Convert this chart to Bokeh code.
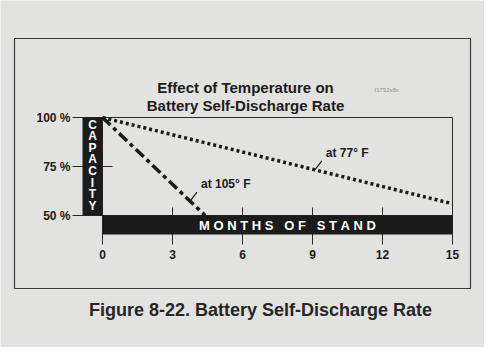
import numpy as np
from bokeh.plotting import figure
from bokeh.models import Range1d
from bokeh.core.properties import value
from bokeh.embed import file_html
from bokeh.resources import INLINE

# ---------------- data ----------------
months_105 = [0, 4.4]
capacity_105 = [100, 50]
months_77 = [0, 15]
capacity_77 = [100, 56]

x_ticks = [0, 3, 6, 9, 12, 15]
x_tick_labels = ["0", "3", "6", "9", "12", "15"]
y_ticks = [50, 75, 100]
y_tick_labels = ["50 %", "75 %", "100 %"]

title_lines = ["Effect of Temperature on", "Battery Self-Discharge Rate"]
y_axis_label = "CAPACITY"
x_axis_label = "MONTHS OF STAND"
caption = "Figure 8-22. Battery Self-Discharge Rate"
code_label = "f1732x8x"
label_105 = "at 105° F"
label_77 = "at 77° F"

# ---------------- layout ----------------
W, H = 484, 347
X_MIN, X_MAX = 0, 15
Y_MIN, Y_MAX = 50, 100
LEFT_PX, RIGHT_PX = 102, 452   # figure px where X_MIN / X_MAX sit
TOP_PX, BOTTOM_PX = 117, 215   # figure px where Y_MAX / Y_MIN sit

sx = (RIGHT_PX - LEFT_PX) / (X_MAX - X_MIN)
sy = (BOTTOM_PX - TOP_PX) / (Y_MAX - Y_MIN)
x_start = X_MIN - LEFT_PX / sx
x_end = x_start + W / sx
y_end = Y_MAX + TOP_PX / sy
y_start = y_end - H / sy


def dx(px):
    return px / sx


def dy(px):
    return px / sy


def fx(px):
    return x_start + px / sx


def fy(py):
    return y_end - py / sy


PAPER = "#e2e2e0"
INK = "#1b1b1b"
FONT = value("Liberation Sans")
NBSP = "\u00a0"

p = figure(width=W, height=H, output_backend="svg", toolbar_location=None,
           x_range=Range1d(x_start, x_end), y_range=Range1d(y_start, y_end),
           min_border=0, background_fill_color=PAPER, border_fill_color=PAPER)
p.axis.visible = False
p.grid.visible = False
p.outline_line_color = None

# outer frame of the figure box
p.quad(left=[fx(14)], right=[fx(470)], top=[fy(38)], bottom=[fy(288)],
       fill_color=None, line_color="#3c3a3e", line_width=1.2)

# title
p.text(x=[fx(245), fx(245)], y=[fy(87), fy(105)], text=title_lines,
       text_align="center", text_baseline="middle", text_font=FONT,
       text_font_style="bold", text_font_size="15px", text_color=INK)
p.text(x=[fx(374)], y=[fy(89)], text=[code_label], text_align="left",
       text_baseline="middle", text_font=FONT, text_font_size="6px",
       text_color="#8a8a8a")

# plot box
p.quad(left=[X_MIN], right=[X_MAX], top=[Y_MAX], bottom=[Y_MIN],
       fill_color=None, line_color="#2a2a2a", line_width=1)

# y ticks
p.segment(x0=[X_MIN - dx(30)] * len(y_ticks), x1=[X_MIN + dx(10)] * len(y_ticks),
          y0=y_ticks, y1=y_ticks, line_color="#2a2a2a", line_width=1)
# x ticks
p.segment(x0=x_ticks, x1=x_ticks, y0=[Y_MIN + dy(8)] * len(x_ticks),
          y1=[Y_MIN - dy(29)] * len(x_ticks), line_color="#2a2a2a", line_width=1)

# data lines
p.line(months_77, capacity_77, line_color=INK, line_width=3.5,
       line_dash="3 3", line_cap="butt")
p.line(months_105, capacity_105, line_color=INK, line_width=3.5,
       line_dash="11 4 4 4", line_cap="butt")

# leaders and labels
for m, xs, ys, lab in [(3.75, months_105, capacity_105, label_105),
                       (9.1, months_77, capacity_77, label_77)]:
    yv = float(np.interp(m, xs, ys))
    p.segment(x0=[m], y0=[yv], x1=[m + dx(7)], y1=[yv + dy(9)],
              line_color=INK, line_width=1.2)
    p.text(x=[m + dx(11)], y=[yv + dy(17)], text=[lab], text_align="left",
           text_baseline="middle", text_font=FONT, text_font_style="bold",
           text_font_size="12px", text_color=INK)

# axis bands
p.quad(left=[X_MIN - dx(20)], right=[X_MIN], top=[Y_MAX], bottom=[Y_MIN],
       fill_color=INK, line_color=None)
p.quad(left=[X_MIN], right=[X_MAX], top=[Y_MIN], bottom=[Y_MIN - dy(19)],
       fill_color=INK, line_color=None)

letters = list(y_axis_label)
p.text(x=[X_MIN - dx(10)] * len(letters),
       y=[Y_MAX - dy(7) - dy(11.6) * i for i in range(len(letters))],
       text=letters, text_align="center", text_baseline="middle",
       text_font=FONT, text_font_style="bold", text_font_size="12px",
       text_color="white")
spaced = (NBSP * 3).join(NBSP.join(word) for word in x_axis_label.split(" "))
p.text(x=[fx(287)], y=[Y_MIN - dy(10)], text=[spaced],
       text_align="center", text_baseline="middle", text_font=FONT,
       text_font_style="bold", text_font_size="13px", text_color="white")

# tick labels
p.text(x=[X_MIN - dx(32)] * len(y_ticks), y=y_ticks, text=y_tick_labels,
       text_align="right", text_baseline="middle", text_font=FONT,
       text_font_style="bold", text_font_size="12px", text_color=INK)
p.text(x=x_ticks, y=[Y_MIN - dy(39)] * len(x_ticks), text=x_tick_labels,
       text_align="center", text_baseline="middle", text_font=FONT,
       text_font_style="bold", text_font_size="12px", text_color=INK)

# caption
p.text(x=[fx(260)], y=[fy(309)], text=[caption], text_align="center",
       text_baseline="middle", text_font=FONT, text_font_style="bold",
       text_font_size="18px", text_color="#262626")

open("out.html", "w").write(file_html(p, INLINE))
